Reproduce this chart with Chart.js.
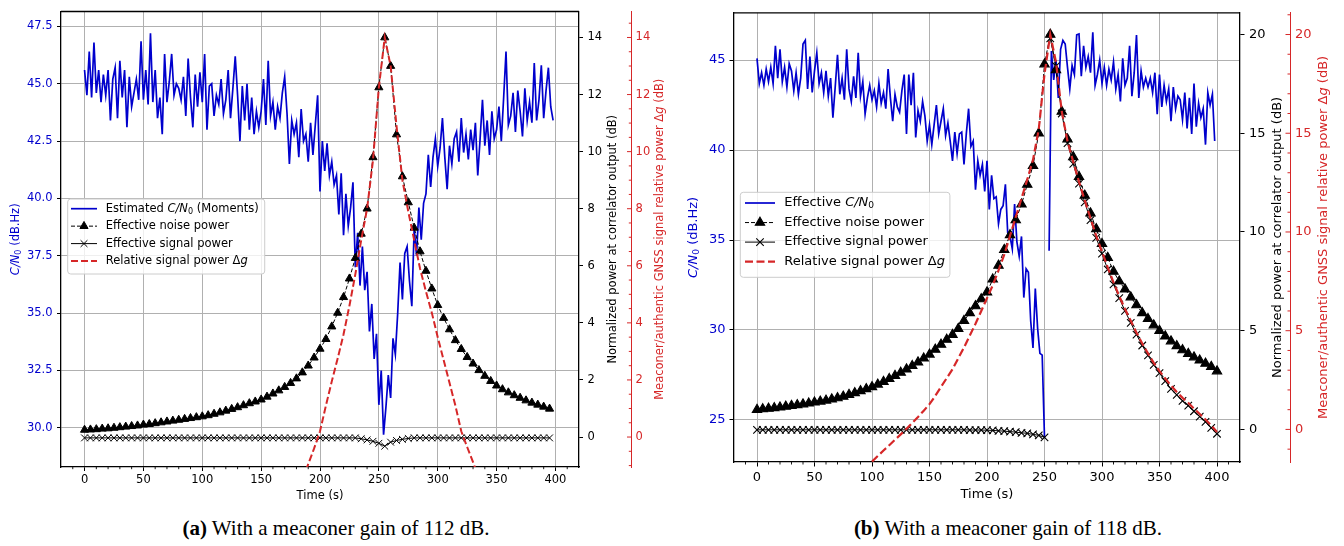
<!DOCTYPE html>
<html>
<head>
<meta charset="utf-8">
<script src="https://cdn.jsdelivr.net/npm/chart.js@4.4.1/dist/chart.umd.min.js"></script>
<style>
  body { margin: 0; background: #fff; width: 1344px; height: 546px; position: relative; overflow: hidden; }
  canvas { position: absolute; top: 0; }
  #ca { left: 0; }
  #cb { left: 672px; }
  .cap { position: absolute; top: 516px; width: 672px; text-align: center; font: 21px "Liberation Serif", serif; line-height: 24px; color: #000; }
</style>
</head>
<body>
<canvas id="ca" width="672" height="510"></canvas>
<canvas id="cb" width="672" height="510"></canvas>
<div class="cap" style="left:0"><b>(a)</b> With a meaconer gain of 112 dB.</div>
<div class="cap" style="left:672px"><b>(b)</b> With a meaconer gain of 118 dB.</div>
<script>
// Two panels: C/N0 (left axis), correlator powers (right axis), meaconer/authentic ratio (offset red axis)

// ------------------------------
// shared
const X_TICKS = [0, 50, 100, 150, 200, 250, 300, 350, 400];
const CN0_DT = 2;    // C/N0 sampled every 2 s
const POW_DT = 5;    // power curves every 5 s

// ------------------------------
// (a) meaconer gain 112 dB
const A_CN0_TICKS = [30, 32.5, 35, 37.5, 40, 42.5, 45, 47.5];
const A_POW_TICKS = [0, 2, 4, 6, 8, 10, 12, 14];
const A_CN0 = [
  45.6, 44.5, 46.4, 44.4, 46.8, 44.6, 45.6, 44.2, 45.4, 44.5,
  45.6, 43.4, 45.2, 45.7, 43.5, 46.0, 44.4, 45.6, 43.1, 45.3,
  44.0, 44.6, 45.2, 44.3, 46.85, 44.3, 45.6, 44.1, 47.2, 44.2,
  45.6, 43.5, 44.4, 42.8, 46.3, 44.2, 45.1, 46.3, 44.5, 45.0,
  44.8, 44.3, 45.3, 43.6, 46.1, 44.4, 43.1, 45.4, 44.0, 45.5,
  44.2, 46.3, 43.0, 44.9, 45.0, 43.6, 44.5, 44.1, 45.2, 43.7,
  44.3, 45.6, 43.5, 44.8, 46.2, 44.5, 42.5, 44.9, 43.4, 45.0,
  43.0, 44.4, 42.8, 43.8, 43.1, 43.8, 45.2, 43.2, 46.0, 43.6,
  44.2, 43.0, 44.0, 43.5, 44.6, 45.3, 43.7, 41.5, 43.4, 42.8,
  43.3, 41.8, 43.9, 42.5, 42.8, 41.6, 43.3, 41.9, 43.2, 44.5,
  40.3, 42.5, 41.2, 42.4, 41.0, 41.6, 40.6, 41.0, 39.3, 41.1,
  38.4, 40.2, 38.8, 39.6, 40.7, 37.0, 38.5, 36.2, 37.9, 36.0,
  36.8, 34.2, 35.4, 33.0, 34.1, 31.0, 32.5, 29.7, 30.9, 32.3,
  31.3, 33.9, 33.2, 35.0, 37.2, 35.6, 37.6, 37.9, 36.4, 35.3,
  38.7, 37.5, 39.6, 38.2, 39.8, 40.2, 41.9, 40.5, 41.8, 42.6,
  41.4, 42.2, 43.5, 41.8, 40.4, 42.3, 41.5, 42.6, 42.9, 41.6,
  43.5, 42.0, 42.8, 41.7, 43.0, 42.1, 43.3, 41.0, 42.6, 44.3,
  42.3, 43.4, 41.9, 43.8, 42.6, 43.0, 44.0, 42.5, 44.4, 46.4,
  43.2, 43.6, 44.6, 42.9, 44.7, 43.8, 42.7, 44.8, 43.4, 44.2,
  43.3, 45.9, 43.4, 44.3, 45.8, 43.5, 44.7, 45.7, 44.0, 43.4
];
const A_NOISE = [
  0.25, 0.26, 0.27, 0.29, 0.30, 0.32, 0.34, 0.36, 0.38, 0.40,
  0.43, 0.45, 0.48, 0.51, 0.54, 0.57, 0.60, 0.63, 0.66, 0.69,
  0.72, 0.76, 0.81, 0.86, 0.92, 0.98, 1.04, 1.11, 1.18, 1.24,
  1.31, 1.41, 1.52, 1.63, 1.75, 1.89, 2.05, 2.26, 2.50, 2.78,
  3.09, 3.43, 3.87, 4.35, 4.90, 5.55, 6.27, 7.12, 8.00, 9.80,
  12.25, 14.0, 13.0, 10.6, 9.13, 8.22, 7.33, 6.50, 5.82, 5.20,
  4.62, 4.17, 3.77, 3.39, 3.08, 2.80, 2.57, 2.34, 2.14, 1.96,
  1.80, 1.67, 1.56, 1.46, 1.37, 1.28, 1.20, 1.13, 1.06, 0.99
];
const A_SIGNAL = [
  -0.03, -0.03, -0.03, -0.03, -0.03, -0.03, -0.03, -0.03, -0.03, -0.03,
  -0.03, -0.03, -0.03, -0.03, -0.03, -0.03, -0.03, -0.03, -0.03, -0.03,
  -0.03, -0.03, -0.03, -0.03, -0.03, -0.03, -0.03, -0.03, -0.03, -0.03,
  -0.03, -0.03, -0.03, -0.03, -0.03, -0.03, -0.03, -0.03, -0.03, -0.03,
  -0.03, -0.03, -0.03, -0.03, -0.03, -0.03, -0.03, -0.06, -0.10, -0.15,
  -0.22, -0.32, -0.18, -0.12, -0.08, -0.05, -0.03, -0.03, -0.03, -0.03,
  -0.03, -0.03, -0.03, -0.03, -0.03, -0.03, -0.03, -0.03, -0.03, -0.03,
  -0.03, -0.03, -0.03, -0.03, -0.03, -0.03, -0.03, -0.03, -0.03, -0.03
];
const A_DG_T0 = 185;  // Δg read from 185 s to 335 s
const A_DG = [
  -1.5, -0.95, -0.4, 0.2, 1.1, 1.95, 2.75, 3.6, 4.6, 5.7,
  6.9, 8.0, 9.7, 12.25, 14.0, 13.0, 10.9, 9.0, 7.9, 6.9,
  5.9, 5.1, 4.35, 3.5, 2.7, 1.9, 1.1, 0.2, -0.35, -0.88,
  -1.45
];

// ------------------------------
// (b) meaconer gain 118 dB
const B_CN0_TICKS = [25, 30, 35, 40, 45];
const B_POW_TICKS = [0, 5, 10, 15, 20];
const B_CN0 = [
  45.1, 43.7, 44.3, 43.6, 44.5, 43.8, 44.6, 43.7, 45.8, 44.0,
  45.6, 43.8, 44.6, 43.5, 44.8, 44.4, 43.3, 44.3, 43.1, 44.0,
  45.9, 46.1, 43.4, 45.2, 43.2, 44.4, 45.4, 43.7, 44.3, 43.2,
  44.4, 43.0, 44.0, 41.8, 43.5, 45.3, 43.1, 44.0, 42.8, 45.6,
  43.4, 42.7, 44.1, 42.9, 45.4, 43.0, 43.8, 42.0, 42.9, 43.6,
  42.8, 43.3, 42.4, 43.7, 42.6, 43.2, 42.3, 44.5, 42.9, 41.6,
  43.1, 42.4, 42.1, 43.3, 44.2, 40.9, 44.2, 42.5, 44.3, 40.7,
  42.2, 41.6, 42.7, 41.9, 40.5, 41.4, 40.3, 41.4, 42.5, 40.9,
  41.6, 42.3, 40.8, 41.5, 40.5, 39.4, 41.0, 39.8, 40.9, 41.0,
  39.2, 40.9, 42.3, 40.2, 40.5, 37.8, 39.4, 38.6, 39.2, 37.7,
  39.4, 36.7, 38.6, 37.3, 37.4, 35.9, 36.7, 36.9, 38.1, 35.4,
  35.2, 34.5, 37.0, 34.9, 34.1, 35.2, 31.8, 33.4, 33.2, 30.5,
  29.0, 32.3, 30.1, 28.7, 28.6, 24.0, null, 34.4, 45.5, 43.9,
  45.0, 42.9, 45.6, 46.1, 45.9, 44.6, 43.4, 44.7, 44.2, 46.4,
  46.45, 44.1, 45.8, 44.6, 45.2, 44.3, 46.55, 43.6, 44.2, 45.0,
  43.7, 44.6, 43.6, 44.5, 43.9, 44.9, 43.4, 44.2, 42.7, 45.1,
  43.6, 44.0, 45.8, 43.0, 44.3, 46.4, 42.9, 44.4, 43.5, 44.0,
  43.5, 44.0, 43.2, 44.3, 42.0, 44.2, 42.4, 43.6, 42.7, 43.4,
  41.6, 43.5, 42.3, 43.0, 42.8, 41.7, 43.2, 41.2, 42.9, 40.9,
  43.7, 41.3, 42.6, 41.8, 42.3, 40.3, 43.2, 42.5, 43.1, 40.5
];
const B_NOISE = [
  1.00, 1.03, 1.06, 1.09, 1.12, 1.16, 1.20, 1.24, 1.28, 1.32,
  1.37, 1.42, 1.47, 1.53, 1.59, 1.67, 1.76, 1.85, 1.95, 2.05,
  2.15, 2.28, 2.42, 2.56, 2.72, 2.88, 3.05, 3.22, 3.40, 3.60,
  3.80, 4.05, 4.30, 4.55, 4.80, 5.10, 5.50, 5.90, 6.25, 6.60,
  6.95, 7.60, 8.30, 9.10, 9.85, 10.6, 11.4, 12.4, 13.35, 15.0,
  18.5, 20.0, 18.2, 16.1, 14.7, 13.8, 12.8, 11.85, 10.95, 10.15,
  9.40, 8.70, 8.00, 7.50, 7.10, 6.70, 6.30, 5.90, 5.60, 5.28,
  5.00, 4.72, 4.47, 4.23, 4.02, 3.83, 3.66, 3.50, 3.34, 3.18,
  2.95
];
const B_SIGNAL_PRE = [   // 0 .. 250 s
  -0.02, -0.02, -0.02, -0.02, -0.02, -0.02, -0.02, -0.02, -0.02, -0.02,
  -0.02, -0.02, -0.02, -0.02, -0.02, -0.02, -0.02, -0.02, -0.02, -0.02,
  -0.02, -0.02, -0.02, -0.02, -0.02, -0.02, -0.02, -0.02, -0.02, -0.02,
  -0.02, -0.02, -0.02, -0.02, -0.02, -0.02, -0.02, -0.03, -0.03, -0.03,
  -0.04, -0.05, -0.07, -0.09, -0.11, -0.14, -0.17, -0.20, -0.25, -0.30,
  -0.40
];
const B_SIGNAL_POST = [  // 255 .. 400 s
  19.8, 18.4, 16.0, 14.5, 13.45, 12.45, 11.5, 10.6, 9.7, 8.9,
  8.1, 7.35, 6.65, 6.0, 5.4, 4.8, 4.25, 3.75, 3.27, 2.85,
  2.45, 2.05, 1.75, 1.45, 1.2, 0.92, 0.65, 0.38, 0.08, -0.22
];
const B_DG_T0 = 100;  // Δg read from 100 s to 400 s
const B_DG = [
  -1.63, -1.35, -1.07, -0.8, -0.52, -0.25, 0.03, 0.33, 0.63, 0.95,
  1.28, 1.7, 2.15, 2.6, 3.05, 3.6, 4.15, 4.75, 5.35, 6.0,
  6.65, 7.3, 8.05, 8.85, 9.8, 10.75, 11.7, 12.65, 13.65, 15.2,
  18.0, 20.0, 18.6, 16.1, 14.6, 13.55, 12.55, 11.6, 10.7, 9.8,
  9.0, 8.2, 7.45, 6.75, 6.1, 5.5, 4.9, 4.35, 3.85, 3.37,
  2.95, 2.58, 2.22, 1.9, 1.6, 1.35, 1.05, 0.78, 0.5, 0.2,
  -0.13
];

// ------------------------------
// styling
const BLUE  = '#0000cd';
const RED   = '#d62728';
const GRID  = '#b0b0b0';
const SPINE = 1.3;
const FONT  = '"DejaVu Sans"';

const pts = (vals, t0, dt) => vals.map((y, i) => ({ x: t0 + i * dt, y }));

// '*' toggles italic, '_' toggles subscript (poor man's mathtext)
function richParts(s) {
  const out = [];
  let it = false, sub = false, buf = '';
  for (const ch of s) {
    if (ch === '*' || ch === '_') {
      if (buf) out.push({ t: buf, it, sub });
      buf = '';
      if (ch === '*') it = !it; else sub = !sub;
    } else buf += ch;
  }
  if (buf) out.push({ t: buf, it, sub });
  return out;
}
const richFont = (p, size) => `${p.it ? 'italic ' : ''}${p.sub ? size * 0.7 : size}px ${FONT}`;

function measureRich(ctx, s, size) {
  let w = 0;
  richParts(s).forEach(p => { ctx.font = richFont(p, size); w += ctx.measureText(p.t).width; });
  return w;
}

function drawRich(ctx, s, x, y, size, color, rot, align) {
  const parts = richParts(s);
  let w = 0;
  parts.forEach(p => { ctx.font = richFont(p, size); p.w = ctx.measureText(p.t).width; w += p.w; });
  ctx.save();
  ctx.translate(x, y);
  if (rot) ctx.rotate(rot);
  ctx.fillStyle = color;
  ctx.textBaseline = 'middle';
  ctx.textAlign = 'left';
  let cx = align === 'left' ? 0 : -w / 2;
  parts.forEach(p => {
    ctx.font = richFont(p, size);
    ctx.fillText(p.t, cx, p.sub ? size * 0.24 : 0);
    cx += p.w;
  });
  ctx.restore();
}

function drawLegend(ctx, p) {
  const L = p.legend, fs = p.font;
  const entries = [
    { text: p.cn0Label, color: BLUE, width: 1.7 },
    { text: 'Effective noise power', color: '#000', width: 1, dash: [4, 2], marker: 'triangle', r: p.triR },
    { text: 'Effective signal power', color: '#000', width: 1, marker: 'crossRot', r: p.crossR },
    { text: 'Relative signal power Δ*g*', color: RED, width: p.redLW, dash: p.redDash }
  ];
  const w = Math.max(...entries.map(e => measureRich(ctx, e.text, fs)));
  ctx.save();
  ctx.beginPath();
  ctx.roundRect(L.x, L.y, L.textX - L.x + w + L.padR, L.h, 3);
  ctx.fillStyle = 'rgba(255,255,255,0.8)';
  ctx.fill();
  ctx.strokeStyle = '#cccccc';
  ctx.lineWidth = 1;
  ctx.stroke();
  entries.forEach((e, i) => {
    const y = L.row0 + i * L.rowH;
    ctx.strokeStyle = e.color;
    ctx.lineWidth = e.width;
    ctx.setLineDash(e.dash || []);
    ctx.beginPath(); ctx.moveTo(L.x0, y); ctx.lineTo(L.x1, y); ctx.stroke();
    ctx.setLineDash([]);
    if (e.marker) {
      ctx.fillStyle = '#000'; ctx.strokeStyle = '#000'; ctx.lineWidth = p.markLW;
      Chart.helpers.drawPoint(ctx, { pointStyle: e.marker, radius: e.r, borderWidth: p.markLW, rotation: 0 }, (L.x0 + L.x1) / 2, y);
    }
    drawRich(ctx, e.text, L.textX, y, fs, '#000', 0, 'left');
  });
  ctx.restore();
}

// spines, minor ticks, inward red ticks, axis titles, legend
function makeDecor(p) {
  return {
    id: 'decor',
    afterDraw(chart) {
      const { ctx, chartArea: a, scales } = chart;
      ctx.save();
      ctx.strokeStyle = '#000';
      ctx.lineWidth = SPINE;
      ctx.beginPath(); ctx.moveTo(a.left, a.top); ctx.lineTo(a.right, a.top); ctx.stroke();

      ctx.lineWidth = 0.9;
      for (let v = -10; v <= 410; v += 10) {
        if (v % 50 === 0) continue;
        const x = scales.x.getPixelForValue(v);
        ctx.beginPath(); ctx.moveTo(x, a.bottom); ctx.lineTo(x, a.bottom + p.minorLen); ctx.stroke();
      }

      const r = scales.y2, sx = r.left;
      ctx.strokeStyle = RED;
      ctx.lineWidth = 1;
      for (let n = Math.ceil(r.min / p.redMinor); n <= Math.floor(r.max / p.redMinor); n++) {
        const v = n * p.redMinor;
        const y = r.getPixelForValue(v);
        const len = p.powTicks.includes(v) ? p.tick : p.minorLen;
        ctx.beginPath(); ctx.moveTo(sx - len, y); ctx.lineTo(sx, y); ctx.stroke();
      }

      const cy = (a.top + a.bottom) / 2, up = -Math.PI / 2;
      drawRich(ctx, '*C/N*_0_ (dB.Hz)', p.titleX[0], cy, p.font, BLUE, up);
      drawRich(ctx, 'Normalized power at correlator output (dB)', p.titleX[1], cy, p.font, '#000', up);
      drawRich(ctx, 'Meaconer/authentic GNSS signal relative power Δ*g* (dB)', p.titleX[2], cy, p.font, RED, up);
      drawRich(ctx, 'Time (s)', (a.left + a.right) / 2, p.timeY, p.font, '#000', 0);
      drawLegend(ctx, p);
      ctx.restore();
    }
  };
}

function makePanel(p) {
  const f = { family: FONT, size: p.font };
  const setTicks = list => s => { s.ticks = list.map(v => ({ value: v })); };
  new Chart(document.getElementById(p.id), {
    type: 'line',
    data: {
      datasets: [
        { data: p.dg, yAxisID: 'y2', borderColor: RED, borderWidth: p.redLW, borderDash: p.redDash, pointRadius: 0 },
        { data: p.signal, yAxisID: 'y1', borderColor: '#000', borderWidth: 1, pointStyle: 'crossRot',
          pointRadius: p.crossR, pointBorderColor: '#000', pointBorderWidth: p.markLW },
        { data: p.noise, yAxisID: 'y1', borderColor: '#000', borderWidth: 1, borderDash: [4, 2], pointStyle: 'triangle',
          pointRadius: p.triR, pointBackgroundColor: '#000', pointBorderColor: '#000', pointBorderWidth: p.markLW },
        { data: p.cn0, yAxisID: 'y', borderColor: BLUE, borderWidth: 1.7, pointRadius: 0 }
      ]
    },
    options: {
      responsive: false,
      animation: false,
      devicePixelRatio: 1,
      events: [],
      layout: { padding: { top: p.top, left: 0, right: 0, bottom: 0 }, autoPadding: false },
      plugins: { legend: { display: false }, tooltip: { enabled: false } },
      scales: {
        x: {
          type: 'linear', min: -20, max: 420,
          afterBuildTicks: setTicks(X_TICKS),
          afterFit: s => { s.height = p.xAxisH; },
          ticks: { font: f, color: '#000', padding: p.xPad, autoSkip: false, maxRotation: 0, callback: v => String(v) },
          grid: { color: GRID, lineWidth: 1, tickColor: '#000', tickLength: p.tick },
          border: { color: '#000', width: SPINE }
        },
        y: {
          position: 'left', min: p.cn0Range[0], max: p.cn0Range[1],
          afterBuildTicks: setTicks(p.cn0Ticks),
          afterFit: s => { s.width = p.leftW; },
          ticks: { font: f, color: BLUE, padding: p.yPad, callback: v => v.toFixed(p.dec) },
          grid: { color: GRID, lineWidth: 1, tickColor: '#000', tickLength: p.tick },
          border: { color: '#000', width: SPINE }
        },
        y1: {
          position: 'right', min: p.powRange[0], max: p.powRange[1],
          afterBuildTicks: setTicks(p.powTicks),
          afterFit: s => { s.width = p.rightW; },
          ticks: { font: f, color: '#000', padding: p.y1Pad, callback: v => String(v) },
          grid: { drawOnChartArea: false, tickColor: '#000', tickLength: p.tick },
          border: { color: '#000', width: SPINE }
        },
        y2: {
          position: 'right', min: p.powRange[0], max: p.powRange[1],
          afterBuildTicks: setTicks(p.powTicks),
          afterFit: s => { s.width = p.redAxisW; },
          ticks: { font: f, color: RED, padding: p.y2Pad, callback: v => String(v) },
          grid: { drawOnChartArea: false, drawTicks: false },
          border: { color: RED, width: 1 }
        }
      }
    },
    plugins: [makeDecor(p)]
  });
}

makePanel({
  id: 'ca', font: 11.5, dec: 1,
  cn0: pts(A_CN0, 0, CN0_DT),
  noise: pts(A_NOISE, 0, POW_DT),
  signal: pts(A_SIGNAL, 0, POW_DT),
  dg: pts(A_DG, A_DG_T0, POW_DT),
  cn0Ticks: A_CN0_TICKS, powTicks: A_POW_TICKS,
  cn0Range: [28.29, 48.15], powRange: [-1.05, 14.91], redMinor: 0.5,
  top: 6, xAxisH: 43, leftW: 61, rightW: 52, redAxisW: 41,
  tick: 4, minorLen: 2.2, xPad: 2, yPad: 4.5, y1Pad: 4.5, y2Pad: 4.6,
  triR: 4.7, crossR: 4.8, markLW: 1, redLW: 2, redDash: [7, 3],
  titleX: [16, 612.7, 660], timeY: 496,
  cn0Label: 'Estimated *C/N*_0_ (Moments)',
  legend: { x: 67.7, y: 199, h: 75, row0: 208.7, rowH: 17.45, x0: 71, x1: 97, textX: 105.7, padR: 6 }
});

makePanel({
  id: 'cb', font: 13, dec: 0,
  cn0: pts(B_CN0, 0, CN0_DT),
  noise: pts(B_NOISE, 0, POW_DT),
  signal: [...pts(B_SIGNAL_PRE, 0, POW_DT), { x: 252.5, y: null }, ...pts(B_SIGNAL_POST, 255, POW_DT)],
  dg: pts(B_DG, B_DG_T0, POW_DT),
  cn0Ticks: B_CN0_TICKS, powTicks: B_POW_TICKS,
  cn0Range: [22.66, 47.63], powRange: [-1.65, 21.1], redMinor: 1,
  top: 7, xAxisH: 48, leftW: 62, rightW: 50, redAxisW: 54,
  tick: 4.5, minorLen: 2.5, xPad: 3, yPad: 4, y1Pad: 4.5, y2Pad: 5,
  triR: 5.4, crossR: 5.3, markLW: 1.1, redLW: 2.2, redDash: [8, 3.5],
  titleX: [22, 606, 652], timeY: 495,
  cn0Label: 'Effective *C/N*_0_',
  legend: { x: 68.3, y: 192.3, h: 85, row0: 203, rowH: 19.55, x0: 73, x1: 103, textX: 112.3, padR: 5 }
});
</script>
</body>
</html>
